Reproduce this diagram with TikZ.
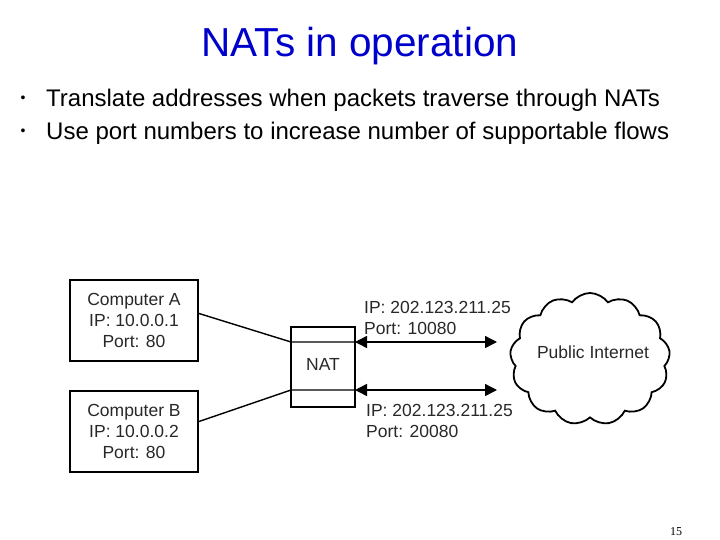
\documentclass[tikz,border=0pt]{standalone}
\usepackage{fontspec}
\setmainfont{Liberation Sans}
\newfontfamily\pnfont{Liberation Serif}
\usetikzlibrary{arrows.meta,shapes.symbols}
\definecolor{titleblue}{RGB}{0,0,204}
\definecolor{ink}{RGB}{40,40,40}
\begin{document}
\begin{tikzpicture}[x=1pt,y=-1pt,
  box/.style={draw=black,line width=2pt,minimum width=128pt,minimum height=81pt,inner sep=0pt,align=center,font=\fontsize{17.5}{21}\selectfont,text=ink},
  natbox/.style={draw=black,line width=2pt,minimum width=64pt,minimum height=80pt,inner sep=0pt},
  conn/.style={line width=1.4pt},
  dbl/.style={line width=1.4pt,{Triangle[length=12pt,width=12pt]}-{Triangle[length=12pt,width=12pt]}},
  lbl/.style={font=\fontsize{17.5}{21}\selectfont,text=ink,align=left,anchor=west,inner sep=0pt},
  bul/.style={font=\fontsize{24}{28}\selectfont,anchor=base west,inner sep=0pt},
  dot/.style={font=\fontsize{14}{16}\selectfont,inner sep=0pt}]
\useasboundingbox (0,0) rectangle (720,540);
\node[font=\fontsize{40.5}{48}\selectfont,text=titleblue,anchor=base,inner sep=0pt] (title) at (360,57) {NATs in operation};
\node[dot] (d1) at (23,99) {•};
\node[bul] (b1) at (46,106.5) {Translate addresses when packets traverse through NATs};
\node[dot] (d2) at (23,132) {•};
\node[bul] (b2) at (46,139.5) {Use port numbers to increase number of supportable flows};
\node[box] (A) at (134,320.5) {Computer A\\IP: 10.0.0.1\\Port: 80};
\node[box] (B) at (134,431.5) {Computer B\\IP: 10.0.0.2\\Port: 80};
\node[natbox] (nat) at (323,367) {};
\node[font=\fontsize{17.5}{21}\selectfont,text=ink] (natlbl) at (323,364) {NAT};
\node[cloud,draw=black,line width=1.8pt,cloud puffs=13,cloud puff arc=110,aspect=1.2,minimum width=160pt,minimum height=132pt,inner sep=0pt] (net) at (590,359) {};
\node[font=\fontsize{17.5}{21}\selectfont,text=ink] (netlbl) at (593,352) {Public Internet};
\coordinate (p1) at (291,342);
\coordinate (p2) at (355,342);
\coordinate (q1) at (497,342);
\coordinate (p3) at (291,390);
\coordinate (p4) at (355,390);
\coordinate (q2) at (497,390);
\draw[conn] ([yshift=7pt]A.east) -- (p1) -- (p2);
\draw[conn] ([yshift=10pt]B.east) -- (p3) -- (p4);
\draw[dbl] (p2) -- (q1);
\draw[dbl] (p4) -- (q2);
\node[lbl] (l1) at (364,318) {IP: 202.123.211.25\\Port: 10080};
\node[lbl] (l2) at (366,420.5) {IP: 202.123.211.25\\Port: 20080};
\node[font=\pnfont\fontsize{12}{14}\selectfont,inner sep=0pt] (pn) at (676,532) {15};
\end{tikzpicture}
\end{document}
